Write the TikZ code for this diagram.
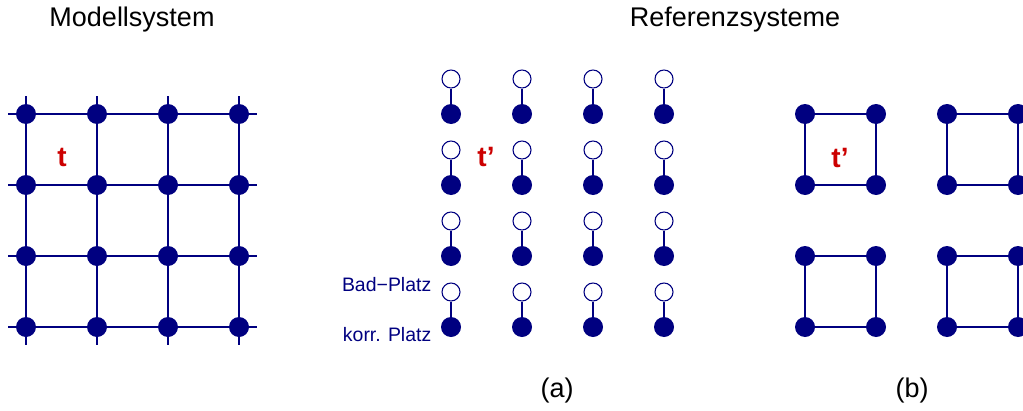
\documentclass[tikz,border=0pt]{standalone}
\usepackage{fontspec}
\setmainfont{Liberation Sans}
\definecolor{navy}{RGB}{0,0,128}
\definecolor{tred}{RGB}{204,0,0}
\begin{document}
\begin{tikzpicture}[x=0.75pt,y=-0.75pt,
  site/.style={circle,fill=navy,inner sep=0pt,minimum size=15pt},
  bath/.style={circle,draw=navy,fill=white,line width=0.8pt,inner sep=0pt,minimum size=13.5pt},
  bond/.style={draw=navy,line width=0.8pt},
  title/.style={anchor=base,font=\fontsize{20.25pt}{24pt}\selectfont},
  hop/.style={text=tred,font=\fontsize{21pt}{24pt}\selectfont\bfseries},
  legend/.style={anchor=base east,text=navy,font=\fontsize{14.6pt}{17pt}\selectfont}]
\useasboundingbox (0,0) rectangle (1023,410);

% titles
\node[title] (tm) at (132,27) {Modellsystem};
\node[title] (tr) at (735,27) {Referenzsysteme};
\node[title] (la) at (557,397) {(a)};
\node[title] (lb) at (912,397) {(b)};

% model system: 4x4 lattice with nearest-neighbour bonds
\foreach \i/\x in {1/26,2/97,3/168,4/239}
  \foreach \j/\y in {1/114,2/185,3/256,4/327}
    \node[site] (m-\i-\j) at (\x,\y) {};
\foreach \j/\y in {1/114,2/185,3/256,4/327}{
  \coordinate (hl-\j) at (8,\y);
  \coordinate (hr-\j) at (257,\y);
  \draw[bond] (hl-\j) -- (m-1-\j) -- (m-2-\j) -- (m-3-\j) -- (m-4-\j) -- (hr-\j);
}
\foreach \i/\x in {1/26,2/97,3/168,4/239}{
  \coordinate (vt-\i) at (\x,96);
  \coordinate (vb-\i) at (\x,345);
  \draw[bond] (vt-\i) -- (m-\i-1) -- (m-\i-2) -- (m-\i-3) -- (m-\i-4) -- (vb-\i);
}
\node[hop] (t) at (62,157) {t};

% reference system (a): each correlated site coupled to one bath site
\foreach \i/\x in {1/451,2/522,3/593,4/664}
  \foreach \j/\y in {1/114,2/185,3/256,4/327}{
    \node[site] (a-\i-\j) at (\x,\y) {};
    \node[bath] (b-\i-\j) at (\x,\y-35) {};
    \draw[bond] (b-\i-\j) -- (a-\i-\j);
  }
\node[hop] (ta) at (486,157) {t'};
\node[legend] (bad) at (436,291) {Bad−Platz};
\node[legend] (korr) at (436,341) {korr. Platz};

% reference system (b): isolated 2x2 plaquettes
\foreach \i/\x in {1/805,2/876,3/947,4/1018}
  \foreach \j/\y in {1/114,2/185,3/256,4/327}
    \node[site] (p-\i-\j) at (\x,\y) {};
\foreach \i/\k in {1/2,3/4}
  \foreach \j/\l in {1/2,3/4}
    \draw[bond] (p-\i-\j) -- (p-\k-\j) -- (p-\k-\l) -- (p-\i-\l) -- (p-\i-\j);
\node[hop] (tb) at (840,158) {t'};
\end{tikzpicture}
\end{document}
